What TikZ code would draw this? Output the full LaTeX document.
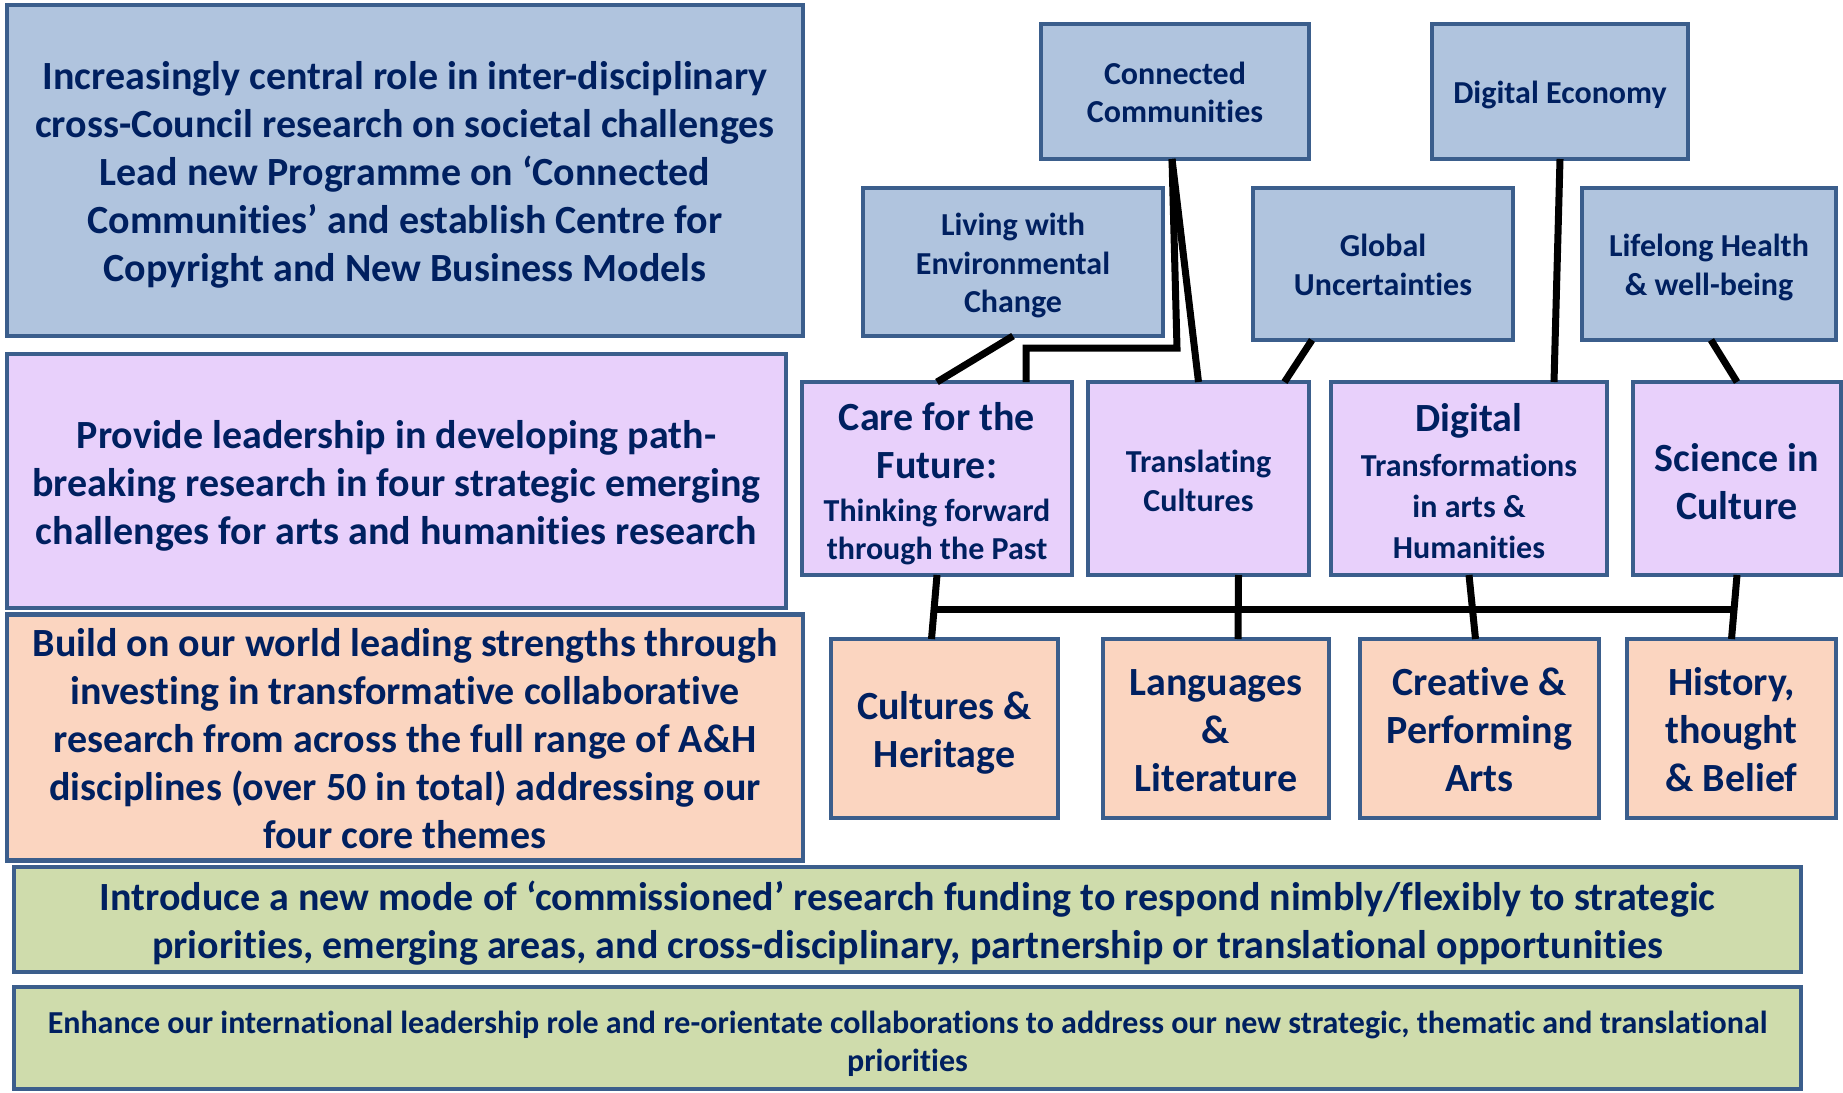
\documentclass[tikz,border=0pt]{standalone}
\usepackage{fontspec}
\setmainfont{Carlito}[Ligatures=NoCommon]
\usetikzlibrary{calc}
\definecolor{txt}{HTML}{002060}
\definecolor{edge}{HTML}{3B5E8C}
\definecolor{bluef}{HTML}{B0C4DE}
\definecolor{purpf}{HTML}{E8D0FB}
\definecolor{peachf}{HTML}{FBD5C0}
\definecolor{greenf}{HTML}{CFDCAC}
\newcommand{\sm}{\fontsize{32}{38.5}\selectfont}
\newcommand{\tb}[1][42]{\rule{0pt}{#1pt}}
\newcommand{\bb}{\rule[-12pt]{0pt}{12pt}}
\newcommand{\ts}[1][33.6]{\rule{0pt}{#1pt}}
\newcommand{\bs}{\rule[-9.6pt]{0pt}{9.6pt}}
\tikzset{
  box/.style={draw=edge, line width=4.5pt, rectangle, align=center, text=txt, inner sep=0pt, outer sep=0pt},
  big/.style={font=\fontsize{40}{48}\selectfont\bfseries},
  small/.style={font=\fontsize{32}{38.5}\selectfont\bfseries},
  link/.style={line width=7pt, black},
}
\begin{document}
\begin{tikzpicture}[x=1pt,y=-1pt]
\useasboundingbox (0,0) rectangle (1843,1092);
\fill[white] (0,0) rectangle (1843,1092);
% left column
\node[box, big, fill=bluef, minimum width=796pt, minimum height=331pt] (b1) at (405,170.5)
 {\tb Increasingly central role in inter-disciplinary\\cross-Council research on societal challenges\\Lead new Programme on ‘Connected\\Communities’ and establish Centre for\\Copyright and New Business Models\bb};
\node[box, big, fill=purpf, minimum width=779pt, minimum height=254pt] (b2) at (396.5,481)
 {\tb[43]Provide leadership in developing path-\\breaking research in four strategic emerging\\challenges for arts and humanities research\bb};
\node[box, big, fill=peachf, minimum width=796pt, minimum height=227pt] (b3) at (405,737.5)
 {\tb Build on our world leading strengths through\\investing in transformative collaborative\\research from across the full range of A\&H\\disciplines (over 50 in total) addressing our\\four core themes\bb};
\node[box, big, fill=greenf, minimum width=1787pt, minimum height=105pt] (b4) at (907.5,919.5)
 {\tb Introduce a new mode of ‘commissioned’ research funding to respond nimbly/flexibly to strategic\\priorities, emerging areas, and cross-disciplinary, partnership or translational opportunities\bb};
\node[box, small, fill=greenf, minimum width=1787pt, minimum height=102pt] (b5) at (907.5,1038)
 {\ts[39]Enhance our international leadership role and re-orientate collaborations to address our new strategic, thematic and translational\\priorities\bs};
% top small boxes
\node[box, small, fill=bluef, minimum width=268pt, minimum height=135pt] (cc) at (1175,91.5) {\ts Connected\\Communities\bs};
\node[box, small, fill=bluef, minimum width=256pt, minimum height=135pt] (de) at (1560,91.5) {\ts Digital Economy\bs};
\node[box, small, fill=bluef, minimum width=300pt, minimum height=148pt] (lwec) at (1013,262) {\ts Living with\\Environmental\\Change\bs};
\node[box, small, fill=bluef, minimum width=260pt, minimum height=152pt] (gu) at (1383,264) {\ts Global\\Uncertainties\bs};
\node[box, small, fill=bluef, minimum width=254pt, minimum height=152pt] (lh) at (1709,264) {\ts Lifelong Health\\\& well-being\bs};
% purple themes
\node[box, big, fill=purpf, minimum width=270pt, minimum height=193pt] (care) at (937,478.5)
 {\tb Care for the\\Future:\\[-4.5pt]\sm Thinking forward\\[-10.5pt]\sm through the Past\bs};
\node[box, small, fill=purpf, minimum width=221pt, minimum height=193pt] (tc) at (1198.5,478.5) {\ts[37]Translating\\Cultures\bs};
\node[box, big, fill=purpf, minimum width=276pt, minimum height=193pt] (dt) at (1469,478.5)
 {\tb Digital\\[-3.3pt]\sm Transformations\\[-7pt]\sm in arts \&\\[-7pt]\sm Humanities\bs};
\node[box, big, fill=purpf, minimum width=208pt, minimum height=193pt] (sic) at (1737,478.5) {\tb[45]Science in\\Culture\bb};
% peach core themes
\node[box, big, fill=peachf, minimum width=227pt, minimum height=179pt] (ch) at (944.5,728.5) {\tb Cultures \&\\Heritage\bb};
\node[box, big, fill=peachf, minimum width=226pt, minimum height=179pt] (ll) at (1216,728.5) {\tb Languages\\\&\\Literature\bb};
\node[box, big, fill=peachf, minimum width=239pt, minimum height=179pt] (cpa) at (1479.5,728.5) {\tb Creative \&\\Performing\\Arts\bb};
\node[box, big, fill=peachf, minimum width=209pt, minimum height=179pt] (htb) at (1731.5,728.5) {\tb History,\\thought\\\& Belief\bb};
% connectors
\draw[link] (lwec.south) -- ([xshift=0pt]care.north);
\draw[link] ([xshift=-3pt]cc.south) -- ++(5,189) -| ([xshift=89pt]care.north);
\draw[link] ([xshift=-3pt]cc.south) -- ([xshift=0pt]tc.north);
\draw[link] ([xshift=-71pt]gu.south) -- ([xshift=86pt]tc.north);
\draw[link] (de.south) -- ([xshift=85pt]dt.north);
\draw[link] ([xshift=2pt]lh.south) -- (sic.north);
\coordinate (busL) at (937,609);
\coordinate (busR) at (1735,609);
\draw[link] (busL) -- (busR);
\draw[link] (care.south) -- ([xshift=-13pt]ch.north);
\draw[link] ([xshift=40pt]tc.south) -- ([xshift=22pt]ll.north);
\draw[link] (dt.south) -- ([xshift=-4pt]cpa.north);
\draw[link] (sic.south) -- (htb.north);
\end{tikzpicture}
\end{document}
